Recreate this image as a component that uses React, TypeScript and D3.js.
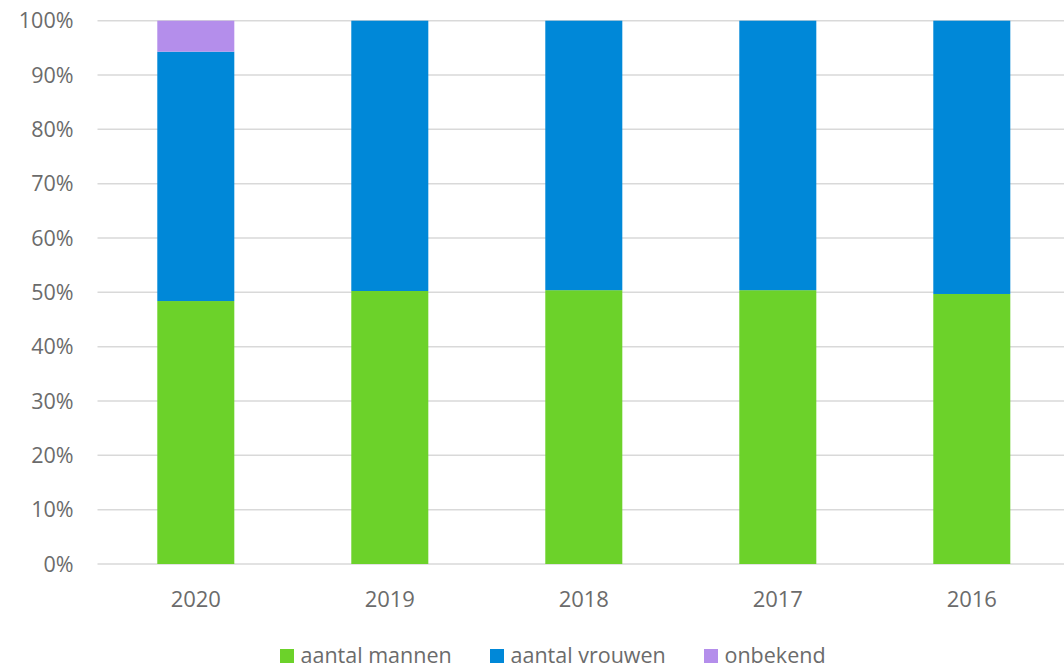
import React from "react";
import * as d3 from "d3";

const categories = ["2020", "2019", "2018", "2017", "2016"];
const seriesNames = ["aantal mannen", "aantal vrouwen", "onbekend"];
const mannen = [48.4, 50.25, 50.4, 50.4, 49.7];
const vrouwen = [45.9, 49.75, 49.6, 49.6, 50.3];
const onbekend = [5.7, 0, 0, 0, 0];
const yTicks = [0, 10, 20, 30, 40, 50, 60, 70, 80, 90, 100];
const colors = ["#6CD22A", "#0088D8", "#B48EEB"];

const W = 1064;
const H = 667;

export default function App() {
  const x = d3
    .scaleBand<string>()
    .domain(categories)
    .range([98.8, 1068.8])
    .paddingInner(0.603)
    .paddingOuter(0.3015);
  const y = d3.scaleLinear().domain([0, 100]).range([564, 20.7]);

  const rows = categories.map((c, i) => ({
    cat: c,
    m: mannen[i],
    v: vrouwen[i],
    o: onbekend[i],
  }));
  const stack = d3.stack<any>().keys(["m", "v", "o"]);
  const layers = stack(rows);

  const font = "'Open Sans', sans-serif";
  const textColor = "#6b6b6b";

  const legendItems = [
    { name: seriesNames[0], color: colors[0], x: 280 },
    { name: seriesNames[1], color: colors[1], x: 490 },
    { name: seriesNames[2], color: colors[2], x: 704 },
  ];

  return (
    <svg
      width={W}
      height={H}
      style={{ position: "absolute", left: 0, top: 0, background: "#fff" }}
    >
      {yTicks.map((t) => (
        <g key={t}>
          <line
            x1={97.5}
            x2={W}
            y1={y(t)}
            y2={y(t)}
            stroke="#d9d9d9"
            strokeWidth={1.5}
          />
          <text
            x={73.5}
            y={y(t)}
            dy="0.36em"
            textAnchor="end"
            fontFamily={font}
            fontSize={21.5}
            fill={textColor}
          >
            {t}%
          </text>
        </g>
      ))}
      {layers.map((layer, li) => (
        <g key={li} fill={colors[li]}>
          {layer.map((d, i) =>
            d[1] - d[0] > 0 ? (
              <rect
                key={i}
                x={x(categories[i])}
                width={x.bandwidth()}
                y={y(d[1])}
                height={y(d[0]) - y(d[1])}
              />
            ) : null
          )}
        </g>
      ))}
      {categories.map((c) => (
        <text
          key={c}
          x={(x(c) as number) + x.bandwidth() / 2}
          y={607}
          textAnchor="middle"
          fontFamily={font}
          fontSize={22}
          fill={textColor}
        >
          {c}
        </text>
      ))}
      {legendItems.map((it) => (
        <g key={it.name}>
          <rect x={it.x} y={649} width={14} height={14} fill={it.color} />
          <text
            x={it.x + 20.5}
            y={662.5}
            fontFamily={font}
            fontSize={21.5}
            fill={textColor}
          >
            {it.name}
          </text>
        </g>
      ))}
    </svg>
  );
}
